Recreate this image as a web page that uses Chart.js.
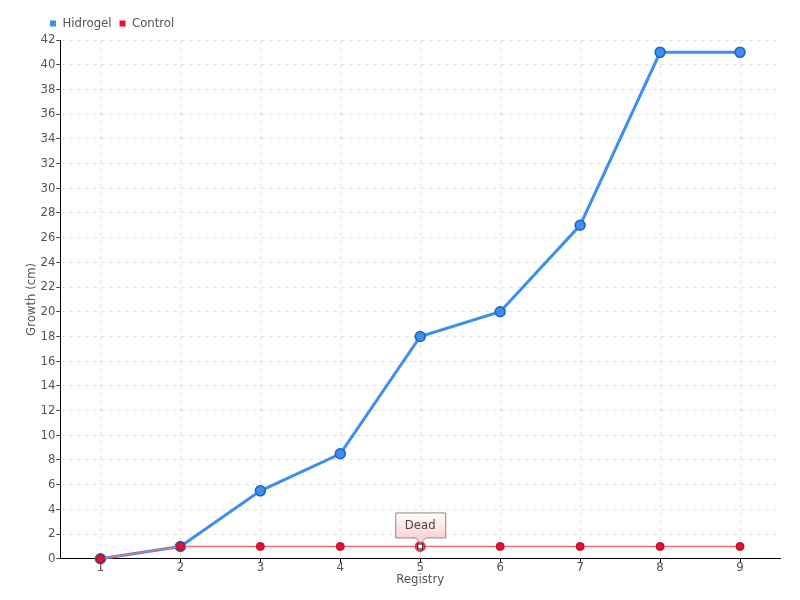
<!DOCTYPE html>
<html>
<head>
<meta charset="utf-8">
<script src="https://cdn.jsdelivr.net/npm/chart.js@4"></script>
<style>
  html, body { margin: 0; padding: 0; background: #fff; }
</style>
</head>
<body>
<canvas id="chart" width="800" height="600"></canvas>
<script>
const registry = ["1", "2", "3", "4", "5", "6", "7", "8", "9"];
const hidrogel = [0, 1, 5.5, 8.5, 18, 20, 27, 41, 41];
const control = [0, 1, 1, 1, 1, 1, 1, 1, 1];
const deadIndex = 4;
const deadLabel = "Dead";

const FONT = "'DejaVu Sans Condensed', 'DejaVu Sans', sans-serif";

const controlRadius = control.map((v, i) => i === deadIndex ? 0 : 4);

// red ring, white square and the "Dead" callout for the dead control plant
const deadNote = {
  id: "deadNote",
  afterLayout(chart) {
    // legend sits over the plot, a little right of the y-axis title
    chart.legend.left += 18;
  },
  afterDatasetsDraw(chart) {
    const ctx = chart.ctx;
    const x = chart.scales.x.getPixelForValue(deadIndex);
    const y = chart.scales.y.getPixelForValue(control[deadIndex]);
    ctx.save();
    ctx.beginPath();
    ctx.arc(x, y, 4.5, 0, Math.PI * 2);
    ctx.strokeStyle = "rgba(232,16,42,0.85)";
    ctx.lineWidth = 2;
    ctx.stroke();
    ctx.fillStyle = "#fff";
    ctx.strokeStyle = "#000";
    ctx.lineWidth = 1;
    ctx.fillRect(x - 2.5, y - 2.5, 5, 5);
    ctx.strokeRect(x - 2.5, y - 2.5, 5, 5);

    const w = 50, h = 25, top = y - 34;
    const left = x - w / 2;
    const grad = ctx.createLinearGradient(0, top, 0, top + h);
    grad.addColorStop(0, "#fff");
    grad.addColorStop(1, "#fbd3d3");
    ctx.beginPath();
    ctx.moveTo(left + 0.5, top + 0.5);
    ctx.lineTo(left + w + 0.5, top + 0.5);
    ctx.lineTo(left + w + 0.5, top + h + 0.5);
    ctx.lineTo(x + 5.5, top + h + 0.5);
    ctx.lineTo(x + 0.5, top + h + 5.5);
    ctx.lineTo(x - 4.5, top + h + 0.5);
    ctx.lineTo(left + 0.5, top + h + 0.5);
    ctx.closePath();
    ctx.fillStyle = grad;
    ctx.fill();
    ctx.strokeStyle = "#8a8a8a";
    ctx.stroke();
    ctx.fillStyle = "#444";
    ctx.font = "13px " + FONT;
    ctx.textAlign = "center";
    ctx.textBaseline = "middle";
    ctx.fillText(deadLabel, x, top + h / 2 + 1);
    ctx.restore();
  }
};

new Chart(document.getElementById("chart"), {
  type: "line",
  data: {
    labels: registry,
    datasets: [
      {
        label: "Hidrogel",
        data: hidrogel,
        borderColor: "#3c8ff0",
        backgroundColor: "#3c8ff0",
        borderWidth: 3,
        pointRadius: 5,
        pointBorderWidth: 1.5,
        pointBackgroundColor: "#3c8ff0",
        pointBorderColor: "#1f63c4",
        tension: 0,
        clip: false,
        order: 2
      },
      {
        label: "Control",
        data: control,
        borderColor: "#f26b78",
        backgroundColor: "#e8102a",
        borderWidth: 1.5,
        pointRadius: controlRadius,
        pointBackgroundColor: "#e8102a",
        pointBorderColor: "#b80a1f",
        pointBorderWidth: 1,
        tension: 0,
        clip: false,
        order: 1
      }
    ]
  },
  options: {
    responsive: false,
    animation: false,
    layout: { padding: { left: 24, right: 20, top: 9, bottom: 14 } },
    plugins: {
      legend: {
        align: "start",
        labels: {
          boxWidth: 6,
          boxHeight: 6,
          padding: 8,
          color: "#555",
          font: { family: FONT, size: 13 },
          generateLabels(chart) {
            return chart.data.datasets.map((ds, i) => ({
              text: ds.label,
              fillStyle: ds.backgroundColor,
              strokeStyle: ds.backgroundColor,
              lineWidth: 0,
              fontColor: "#555",
              datasetIndex: i
            }));
          }
        }
      },
      tooltip: { enabled: false }
    },
    scales: {
      x: {
        offset: true,
        title: { display: true, text: "Registry", color: "#555", font: { family: FONT, size: 13 }, padding: -1 },
        ticks: { color: "#555", font: { family: FONT, size: 13 }, padding: -3 },
        border: { color: "#000", width: 1, dash: [4, 4] },
        grid: {
          offset: false,
          color: "#e2e2e2",
          tickColor: "#000",
          tickLength: 4,
          tickBorderDash: [1, 0]
        }
      },
      y: {
        min: 0,
        max: 42,
        title: { display: true, text: "Growth (cm)", color: "#555", font: { family: FONT, size: 13 }, padding: 0 },
        ticks: { stepSize: 2, autoSkip: false, color: "#555", font: { family: FONT, size: 13 }, padding: 1 },
        border: { color: "#000", width: 1, dash: [4, 4] },
        grid: {
          color: "#e2e2e2",
          tickColor: "#000",
          tickLength: 4,
          tickBorderDash: [1, 0]
        }
      }
    }
  },
  plugins: [deadNote]
});
</script>
</body>
</html>
